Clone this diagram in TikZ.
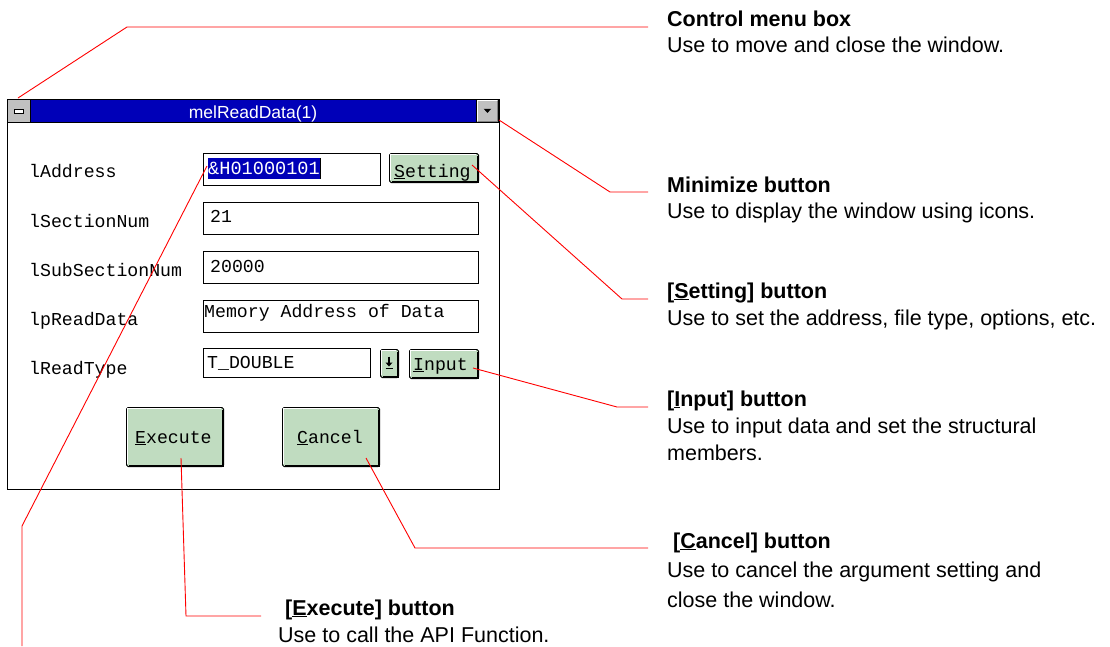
\documentclass[tikz,border=0pt]{standalone}
\usepackage{fontspec}
\setmainfont{Liberation Sans}
\setmonofont{Liberation Mono}
\definecolor{titleblue}{RGB}{0,0,184}
\definecolor{btngreen}{RGB}{192,220,192}
\definecolor{chrome}{RGB}{192,192,192}
\definecolor{chromedark}{RGB}{128,128,128}
\definecolor{leader}{RGB}{255,0,0}
\begin{document}
\begin{tikzpicture}[x=1pt,y=-1pt,
  lead/.style={draw=leader, line width=0.9pt, line join=miter},
  heading/.style={font=\fontsize{21.5}{26}\selectfont\bfseries, anchor=base west, inner sep=0pt},
  body/.style={font=\fontsize{21.5}{26}\selectfont, anchor=base west, inner sep=0pt},
  mono/.style={font=\ttfamily\fontsize{18.2}{18.2}\selectfont, anchor=base west, inner sep=0pt},
  field/.style={draw, line width=0.9pt, fill=white, anchor=north west, inner sep=0pt},
  btnbox/.style={draw, line width=1pt, fill=btngreen, rounded corners=1.5pt, anchor=north west, inner sep=0pt},
  chromebox/.style={draw, line width=0.9pt, fill=chrome, anchor=north west, inner sep=0pt},
]
\useasboundingbox (0,0) rectangle (1110,646);

% ---------- dialog window ----------
\node[draw, line width=1.2pt, fill=white, anchor=north west, inner sep=0pt,
      minimum width=492pt, minimum height=390pt] (win) at (7,99) {};
\node[draw, line width=1.2pt, fill=titleblue, anchor=north west, inner sep=0pt,
      minimum width=492pt, minimum height=23pt] (bar) at (7,99) {};
\node[font=\fontsize{17.5}{17.5}\selectfont, text=white, anchor=base, inner sep=0pt] (title) at (253,118) {melReadData(1)};

% control menu box
\node[chromebox, minimum width=23pt, minimum height=23pt] (ctl) at (7,99) {};
\node[draw, line width=0.8pt, fill=white, minimum width=9pt, minimum height=4pt, inner sep=0pt] (ctlbar) at (ctl.center) {};

% minimize button
\node[chromebox, minimum width=22pt, minimum height=23pt] (minb) at (476,99) {};
\draw[white, line width=1pt] ([shift={(1.5,-2)}]minb.south west) -- ([shift={(1.5,1.5)}]minb.north west) -- ([shift={(-2,1.5)}]minb.north east);
\draw[chromedark, line width=1.2pt] ([shift={(-1.5,2)}]minb.north east) -- ([shift={(-1.5,-1.5)}]minb.south east) -- ([shift={(2,-1.5)}]minb.south west);
\fill ([shift={(-3.8,-2.2)}]minb.center) -- ([shift={(3.8,-2.2)}]minb.center) -- ([shift={(0,2)}]minb.center) -- cycle;

% argument labels
\node[mono] (lAddr) at (29,177) {lAddress};
\node[mono] (lSec)  at (29,227) {lSectionNum};
\node[mono] (lSub)  at (29,276) {lSubSectionNum};
\node[mono] (lRead) at (29,325) {lpReadData};
\node[mono] (lType) at (29,374) {lReadType};

% entry fields
\node[field, minimum width=177pt, minimum height=32pt] (fAddr) at (203,153) {};
\node[fill=titleblue, anchor=north west, inner sep=0pt, minimum width=112pt, minimum height=21pt] (sel) at (208,158) {};
\draw[line width=1.2pt] (sel.north east) -- (sel.south east);
\node[mono, text=white, font=\ttfamily\fontsize{18.6}{18.6}\selectfont] (vAddr) at (208,174) {\&H01000101};

\node[field, minimum width=275pt, minimum height=32pt] (fSec) at (203,202) {};
\node[mono] (vSec) at (210,222) {21};
\node[field, minimum width=275pt, minimum height=32pt] (fSub) at (203,251) {};
\node[mono] (vSub) at (210,272) {20000};
\node[field, minimum width=275pt, minimum height=32pt] (fRead) at (203,300) {};
\node[mono] (vRead) at (204,317) {Memory Address of Data};
\node[field, minimum width=167pt, minimum height=29pt] (fType) at (203,348) {};
\node[mono] (vType) at (207,368) {T\_DOUBLE};

% buttons
\newcommand{\bevel}[1]{%
  \draw[white, line width=1pt] ([shift={(1.6,-3)}]#1.south west) -- ([shift={(1.6,1.6)}]#1.north west) -- ([shift={(-3,1.6)}]#1.north east);
  \draw[black, line width=2.2pt] ([shift={(-1.1,2.5)}]#1.north east) -- ([shift={(-1.1,-1.1)}]#1.south east) -- ([shift={(2.5,-1.1)}]#1.south west);
}
\node[btnbox, minimum width=89pt, minimum height=29pt] (bSet) at (389,153) {};
\bevel{bSet}
\node[mono] (tSet) at (394,177) {\underline{S}etting};

\node[btnbox, minimum width=18pt, minimum height=28pt] (bDrop) at (380,349) {};
\bevel{bDrop}
\draw[line width=1.2pt] ([shift={(-0.5,-7)}]bDrop.center) -- ([shift={(-0.5,0)}]bDrop.center);
\fill ([shift={(-4,-1)}]bDrop.center) -- ([shift={(3,-1)}]bDrop.center) -- ([shift={(-0.5,3)}]bDrop.center) -- cycle;
\draw[line width=1.2pt] ([shift={(-4,5)}]bDrop.center) -- ([shift={(3,5)}]bDrop.center);

\node[btnbox, minimum width=69pt, minimum height=29pt] (bIn) at (409,349) {};
\bevel{bIn}
\node[mono] (tIn) at (413,370) {\underline{I}nput};

\node[btnbox, minimum width=97pt, minimum height=59pt] (bExe) at (126,407) {};
\bevel{bExe}
\node[mono] (tExe) at (135,443) {\underline{E}xecute};

\node[btnbox, minimum width=97pt, minimum height=59pt] (bCan) at (282,407) {};
\bevel{bCan}
\node[mono] (tCan) at (297,443) {\underline{C}ancel};

% ---------- explanations ----------
\node[heading] (cmbH) at (667,26) {Control menu box};
\node[body]    (cmbB) at (667,52) {Use to move and close the window.};

\node[heading] (minH) at (667,192) {Minimize button};
\node[body]    (minB) at (667,218) {Use to display the window using icons.};

\node[heading] (setH) at (667,298) {[\underline{S}etting] button};
\node[body]    (setB) at (667,325) {Use to set the address, file type, options, etc.};

\node[heading] (inH)  at (667,406) {[\underline{I}nput] button};
\node[body]    (inB1) at (667,433) {Use to input data and set the structural};
\node[body]    (inB2) at (667,460) {members.};

\node[heading] (canH)  at (673,548) {[\underline{C}ancel] button};
\node[body]    (canB1) at (667,577) {Use to cancel the argument setting and};
\node[body]    (canB2) at (667,607) {close the window.};

\node[heading] (exeH) at (285,615) {[\underline{E}xecute] button};
\node[body]    (exeB) at (278,642) {Use to call the API Function.};

% ---------- leader lines ----------
\coordinate (pCtl) at (18,98);   \coordinate (kCtl) at (127,27);  \coordinate (eCtl) at (648,27);
\coordinate (pMin) at (499,120); \coordinate (kMin) at (610,192); \coordinate (eMin) at (648,192);
\coordinate (pSet) at (472,165); \coordinate (kSet) at (622,299); \coordinate (eSet) at (648,299);
\coordinate (pIn)  at (473,368); \coordinate (kIn)  at (617,407); \coordinate (eIn)  at (648,407);
\coordinate (pCan) at (366,458); \coordinate (kCan) at (415,548); \coordinate (eCan) at (648,548);
\coordinate (pExe) at (181,458); \coordinate (kExe) at (186,616); \coordinate (eExe) at (261,616);
\coordinate (pAdr) at (207,166); \coordinate (kAdr) at (22,526);  \coordinate (eAdr) at (22,646);

\draw[lead] (pCtl) -- (kCtl) -- (eCtl);
\draw[lead] (pMin) -- (kMin) -- (eMin);
\draw[lead] (pSet) -- (kSet) -- (eSet);
\draw[lead] (pIn)  -- (kIn)  -- (eIn);
\draw[lead] (pCan) -- (kCan) -- (eCan);
\draw[lead] (pExe) -- (kExe) -- (eExe);
\draw[lead] (pAdr) -- (kAdr) -- (eAdr);
\end{tikzpicture}
\end{document}
